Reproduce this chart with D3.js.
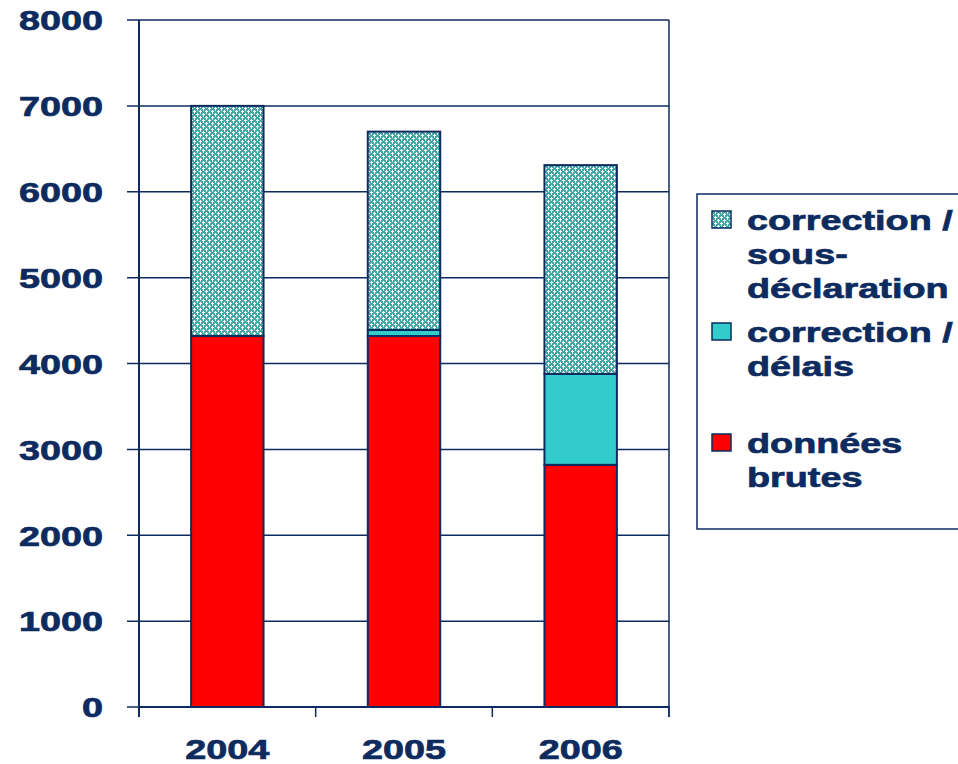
<!DOCTYPE html>
<html>
<head>
<meta charset="utf-8">
<script src="https://cdn.jsdelivr.net/npm/d3@7"></script>
<style>
  body { margin: 0; background: white; }
  text { font-family: Arial, "Liberation Sans", sans-serif; font-weight: bold; fill: #0d2b5e;
         stroke: #0d2b5e; stroke-width: 0.7px; }
</style>
</head>
<body>
<div id="chart"></div>
<script>
// data
var years = ["2004", "2005", "2006"]
var brutes = [4320, 4320, 2820]
var delais = [0, 70, 1060]
var sousDecl = [2680, 2310, 2430]
var yTicks = [0, 1000, 2000, 3000, 4000, 5000, 6000, 7000, 8000]
var legendLabels = [["correction /", "sous-", "déclaration"], ["correction /", "délais"], ["données", "brutes"]]

var navy = "#0d2b5e"
var sx = 1.35 // text in the picture is stretched sideways

var W = 958, H = 764
var margin = {top: 20, right: 289, bottom: 57, left: 139}
var width = W - margin.left - margin.right
var height = H - margin.top - margin.bottom

var svg = d3.select("#chart").append("svg")
    .attr("width", W).attr("height", H)

// hatch pattern for the sous-déclaration part
var defs = svg.append("defs")
var pat = defs.append("pattern")
    .attr("id", "hatch")
    .attr("patternUnits", "userSpaceOnUse")
    .attr("width", 6).attr("height", 6)
pat.append("rect").attr("width", 6).attr("height", 6).attr("fill", "#45a6a6")
pat.append("path")
    .attr("d", "M1,0h1v1h1v1h-1v1h-1v-1h-1v-1h1z M4,3h1v1h1v1h-1v1h-1v-1h-1v-1h1z")
    .attr("fill", "white")
pat.append("path")
    .attr("d", "M4,0h1v1h-1z M1,3h1v1h-1z")
    .attr("fill", "#c4e6e6")

var g = svg.append("g")
    .attr("transform", "translate(" + margin.left + "," + margin.top + ")")

var x = d3.scaleBand().domain(years).range([0, width]).paddingInner(0.59).paddingOuter(0.295)
var y = d3.scaleLinear().domain([0, 8000]).range([height, 0])

// grid lines
g.selectAll(".grid")
    .data(yTicks)
    .enter().append("line")
    .attr("x1", -12).attr("x2", width)
    .attr("y1", function(d) { return y(d) }).attr("y2", function(d) { return y(d) })
    .attr("stroke", navy).attr("stroke-width", 1.5)

// right border
g.append("line")
    .attr("x1", width).attr("x2", width).attr("y1", 0).attr("y2", height + 10)
    .attr("stroke", navy).attr("stroke-width", 1.5)

// stacked bars
var series = [
    {key: "brutes", vals: brutes, fill: "#ff0000"},
    {key: "delais", vals: delais, fill: "#33cccc"},
    {key: "sous", vals: sousDecl, fill: "url(#hatch)"}
]
years.forEach(function(yr, i) {
    var base = 0
    series.forEach(function(s) {
        var v = s.vals[i]
        if (v > 0) {
            g.append("rect")
                .attr("x", x(yr))
                .attr("width", x.bandwidth())
                .attr("y", y(base + v))
                .attr("height", y(base) - y(base + v))
                .attr("fill", s.fill)
                .attr("stroke", navy).attr("stroke-width", 2)
        }
        base += v
    })
})

// y axis
var yAxis = g.append("g")
    .call(d3.axisLeft(y).tickValues(yTicks).tickSize(0).tickFormat(d3.format("d")))
yAxis.select(".domain").remove()
// stretch tick labels sideways around their right edge
yAxis.selectAll(".tick text")
    .style("font-size", "28px").style("fill", navy)
    .attr("x", 0).attr("dy", "0.35em")
    .attr("transform", "translate(-36,0) scale(" + sx + ",1)")
g.append("line")
    .attr("x1", 0).attr("x2", 0).attr("y1", 0).attr("y2", height + 10)
    .attr("stroke", navy).attr("stroke-width", 2)

// x axis
var xAxis = g.append("g").attr("transform", "translate(0," + height + ")")
var xBounds = [0, width / 3, 2 * width / 3, width]
xAxis.selectAll(".xt").data(xBounds).enter().append("line")
    .attr("x1", function(d) { return d }).attr("x2", function(d) { return d })
    .attr("y1", 0).attr("y2", 10)
    .attr("stroke", navy).attr("stroke-width", 1.5)
xAxis.append("line").attr("x1", 0).attr("x2", width).attr("y1", 0).attr("y2", 0)
    .attr("stroke", navy).attr("stroke-width", 2)
xAxis.selectAll(".xl").data(years).enter().append("text")
    .attr("transform", function(d) { return "translate(" + (x(d) + x.bandwidth() / 2) + ",52) scale(" + sx + ",1)" })
    .attr("text-anchor", "middle")
    .style("font-size", "28px")
    .text(function(d) { return d })

// legend
var leg = svg.append("g")
leg.append("rect")
    .attr("x", 697).attr("y", 194).attr("width", 300).attr("height", 335)
    .attr("fill", "white").attr("stroke", navy).attr("stroke-width", 1.5)
var legFills = ["url(#hatch)", "#33cccc", "#ff0000"]
var legTop = [220, 332, 443]
legendLabels.forEach(function(lines, i) {
    leg.append("rect")
        .attr("x", 712).attr("y", legTop[i] - 9).attr("width", 19).attr("height", 17)
        .attr("fill", legFills[i]).attr("stroke", navy).attr("stroke-width", 1.5)
    lines.forEach(function(line, j) {
        leg.append("text")
            .attr("transform", "translate(747," + (legTop[i] + 10 + j * 34) + ") scale(" + sx + ",1)")
            .style("font-size", "28px")
            .text(line)
    })
})
</script>
</body>
</html>
